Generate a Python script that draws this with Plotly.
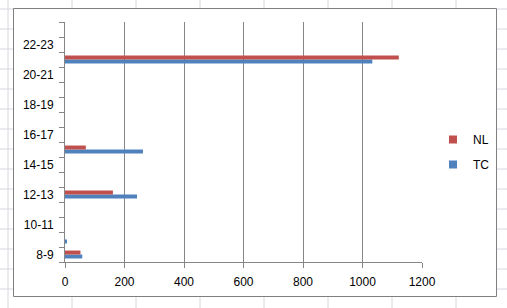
import plotly.graph_objects as go

# ---- data ----
categories = ["8-9", "9-10", "10-11", "11-12", "12-13", "13-14", "14-15", "15-16",
              "16-17", "17-18", "18-19", "19-20", "20-21", "21-22", "22-23", "23-24"]
tc_values = [58, 5, 0, 0, 242, 0, 0, 262, 0, 0, 0, 0, 0, 1033, 0, 0]
nl_values = [52, 0, 0, 0, 161, 0, 0, 70, 0, 0, 0, 0, 0, 1122, 0, 0]
tick_labels = [c if i % 2 == 0 else "" for i, c in enumerate(categories)]
x_ticks = [0, 200, 400, 600, 800, 1000, 1200]

RED = "#C0504D"
BLUE = "#4F81BD"
AXIS = "#868686"
FONT = "Liberation Sans"

W, H = 507, 308
L, T, PW, PH = 65, 22, 357, 240


def px(xp):
    return (xp - L) / PW


def py(yp):
    return (T + PH - yp) / PH


fig = go.Figure()
fig.add_trace(go.Bar(y=categories, x=tc_values, orientation="h", name="TC",
                     marker=dict(color=BLUE, line=dict(width=0)), showlegend=False))
fig.add_trace(go.Bar(y=categories, x=nl_values, orientation="h", name="NL",
                     marker=dict(color=RED, line=dict(width=0)), showlegend=False))
# legend entries (NL listed first, as in the reference)
fig.add_trace(go.Scatter(x=[None], y=[None], mode="markers", name="NL", legendgroup="nl",
                         marker=dict(symbol="square", size=8, color=RED)))
fig.add_trace(go.Scatter(x=[None], y=[None], mode="markers", name="TC", legendgroup="tc",
                         marker=dict(symbol="square", size=8, color=BLUE)))

shapes = []
# spreadsheet grid behind the chart
for xv in range(8, W + 1, 64):
    shapes.append(dict(type="line", xref="paper", yref="paper", layer="below",
                       x0=px(xv), x1=px(xv), y0=py(0), y1=py(H),
                       line=dict(color="#D4D8DE", width=1)))
for yv in range(9, H + 1, 20):
    shapes.append(dict(type="line", xref="paper", yref="paper", layer="below",
                       x0=px(0), x1=px(W), y0=py(yv), y1=py(yv),
                       line=dict(color="#D4D8DE", width=1)))
# chart area
shapes.append(dict(type="rect", xref="paper", yref="paper", layer="below",
                   x0=px(13.5), x1=px(496.5), y0=py(296.5), y1=py(8.5),
                   fillcolor="white", line=dict(color="#7F7F7F", width=1)))

fig.update_layout(
    width=W, height=H,
    margin=dict(l=L, r=W - L - PW, t=T, b=H - T - PH, pad=0, autoexpand=False),
    paper_bgcolor="white", plot_bgcolor="rgba(0,0,0,0)",
    barmode="group", bargap=0.47, bargroupgap=0,
    font=dict(family=FONT, size=12, color="#000000"),
    shapes=shapes,
    showlegend=True,
    legend=dict(x=px(433), y=py(125), xanchor="left", yanchor="top",
                traceorder="grouped", tracegroupgap=6,
                bgcolor="rgba(0,0,0,0)", font=dict(family=FONT, size=12)),
    xaxis=dict(range=[0, 1200], tickvals=x_ticks, ticktext=[str(v) for v in x_ticks],
               showgrid=True, gridcolor=AXIS, gridwidth=1, zeroline=False,
               showline=True, linecolor=AXIS, linewidth=1,
               ticks="outside", ticklen=5, tickcolor=AXIS, ticklabelstandoff=4,
               fixedrange=True),
    yaxis=dict(type="category", categoryorder="array", categoryarray=categories,
               tickmode="array", tickvals=categories, ticktext=tick_labels,
               tickson="boundaries", showgrid=False, zeroline=False,
               showline=True, linecolor=AXIS, linewidth=1,
               ticks="outside", ticklen=5, tickcolor=AXIS, ticklabelstandoff=8,
               fixedrange=True),
)

fig.write_html("out.html")
